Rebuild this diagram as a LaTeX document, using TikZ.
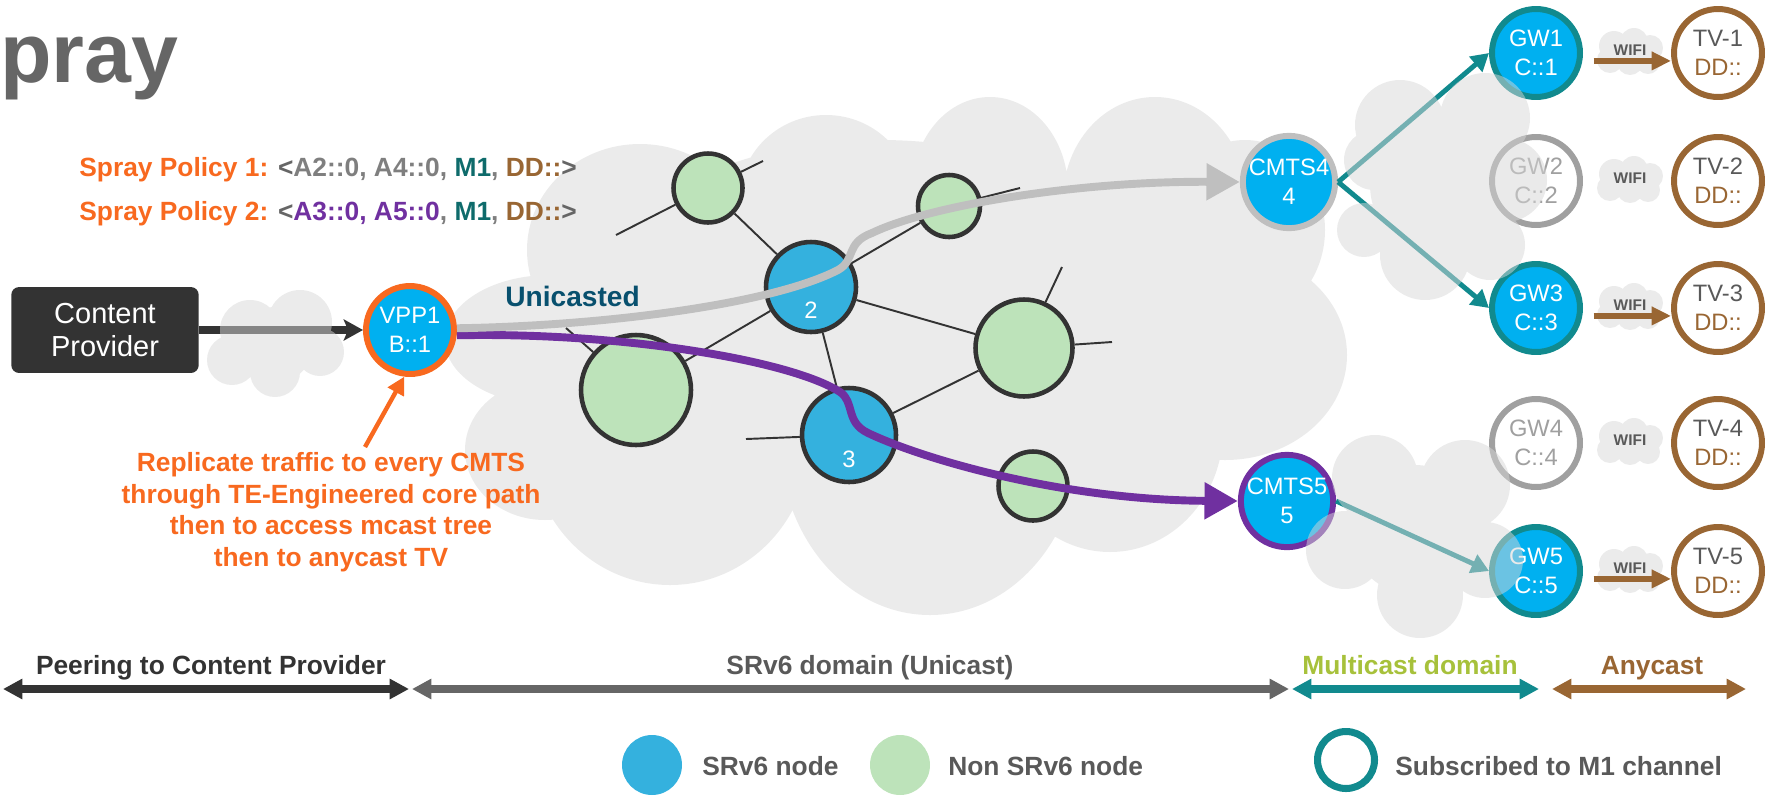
\documentclass[tikz,border=0pt]{standalone}
\usepackage{fontspec}
\setmainfont{Liberation Sans}
\usetikzlibrary{arrows.meta,backgrounds}

\definecolor{sprayorange}{HTML}{F8691F}
\definecolor{policygray}{HTML}{7F7F7F}
\definecolor{bracketgray}{HTML}{666666}
\definecolor{mtealtext}{HTML}{0E6B6B}
\definecolor{tvbrown}{HTML}{996633}
\definecolor{unipurple}{HTML}{7030A0}
\definecolor{unigray}{HTML}{BFBFBF}
\definecolor{txtgray}{HTML}{595959}
\definecolor{unicastblue}{HTML}{08506E}
\definecolor{mcgreen}{HTML}{A7C13B}
\definecolor{cloudgray}{HTML}{EBEBEB}
\definecolor{cloudmid}{HTML}{D7D7D7}
\definecolor{srblue}{HTML}{00B0F0}
\definecolor{netblue}{HTML}{34B1DE}
\definecolor{netgreen}{HTML}{BDE3BA}
\definecolor{netline}{HTML}{333333}
\definecolor{peerdark}{HTML}{333333}
\definecolor{srvbar}{HTML}{666666}
\definecolor{mteal}{HTML}{118A8E}
\definecolor{offgray}{HTML}{A0A0A0}
\definecolor{titlegray}{HTML}{666666}

\newcommand\nodefont{\fontsize{13.5}{16.5}\selectfont}
\newcommand\boldlabel{\bfseries\fontsize{15}{18}\selectfont}

\tikzset{
  bignode/.style={circle, minimum size=1.76cm, inner sep=0pt, line width=3.4pt, align=center, font=\nodefont},
  srv6/.style={bignode, fill=srblue, text=white},
  gwon/.style={srv6, draw=mteal},
  gwoff/.style={bignode, fill=white, draw=offgray, text=offgray},
  tvnode/.style={bignode, fill=white, draw=tvbrown, text=txtgray},
  netnode/.style={circle, inner sep=0pt, line width=2.6pt, draw=netline, minimum size=#1},
  netsr/.style={netnode=#1, fill=netblue},
  netgr/.style={netnode=#1, fill=netgreen},
  numlabel/.style={text=white, font=\nodefont, inner sep=0pt, yshift=#1},
  link/.style={netline, line width=1.1pt},
  unipath/.style={line width=4.5pt, -{Triangle[length=19pt,width=20pt]}},
  mcast/.style={mteal, line width=2.8pt, -{Triangle[length=10pt,width=11pt]}},
  wifiarrow/.style={tvbrown, line width=3.4pt, -{Triangle[length=11pt,width=10pt]}},
  domainbar/.style={line width=4pt, {Triangle[length=11pt,width=11pt]}-{Triangle[length=11pt,width=11pt]}},
  barlabel/.style={anchor=base, inner sep=0pt, font=\boldlabel},
  legtext/.style={anchor=base west, inner sep=0pt, font=\boldlabel, text=txtgray},
  cloudback/.style={fill=cloudgray},
  cloudtop/.style={fill=cloudmid, fill opacity=0.5},
}

\begin{document}
\begin{tikzpicture}[x=0.02cm, y=-0.02cm]
    \useasboundingbox (0,0) rectangle (1768,795);

    % title and spray policies
    \node[anchor=base west, inner sep=0pt, text=titlegray,
      font=\bfseries\fontsize{48}{48}\selectfont] (title) at (0,82) {pray};
    \node[anchor=base west, inner sep=0pt, font=\boldlabel] (pol1) at (79,176)
      {\textcolor{sprayorange}{Spray Policy 1:} \textcolor{bracketgray}{<}\textcolor{policygray}{A2::0, A4::0,}
       \textcolor{mtealtext}{M1}\textcolor{policygray}{,} \textcolor{tvbrown}{DD::}\textcolor{bracketgray}{>}};
    \node[anchor=base west, inner sep=0pt, font=\boldlabel] (pol2) at (79,220)
      {\textcolor{sprayorange}{Spray Policy 2:} \textcolor{bracketgray}{<}\textcolor{unipurple}{A3::0, A5::0}\textcolor{policygray}{,}
       \textcolor{mtealtext}{M1}\textcolor{policygray}{,} \textcolor{tvbrown}{DD::}\textcolor{bracketgray}{>}};

    % content provider and head end
    \node[rectangle, rounded corners=4.5pt, fill=peerdark, minimum width=3.75cm, minimum height=1.72cm,
      text=white, align=center, font=\fontsize{16.5}{19.3}\selectfont] (cp) at (105,330) {Content\\Provider};
    \node[srv6, draw=sprayorange] (vpp) at (410,330) {VPP1\\B::1};
    \node[anchor=north, inner sep=0pt, align=center, text=sprayorange, font=\boldlabel] (rep) at (331,452)
      {Replicate traffic to every CMTS\\through TE-Engineered core path\\then to access mcast tree\\then to anycast TV};
    \coordinate (repTip) at (365,447);

    % core network
    \node[netgr=1.38cm] (gTL) at (708,188) {};
    \node[netgr=1.24cm] (gTR) at (949,206) {};
    \node[netsr=1.8cm, label={[numlabel=-13pt]center:2}] (n2) at (811,287) {};
    \node[netgr=2.2cm] (gBig) at (636,390) {};
    \node[netsr=1.88cm, label={[numlabel=-14pt]center:3}] (n3) at (849,435) {};
    \node[netgr=1.94cm] (gR) at (1024,348) {};
    \node[netgr=1.38cm] (gBR) at (1033,486) {};
    \coordinate (sTLa) at (616,235);
    \coordinate (sTLb) at (763,161);
    \coordinate (sTR) at (1020,188);
    \coordinate (sBig) at (566,328);
    \coordinate (s3) at (746,439);
    \coordinate (sRa) at (1062,267);
    \coordinate (sRb) at (1112,342);

    \begin{scope}[on background layer]
      % SRv6 cloud
      \fill[cloudback] (640,250) ellipse[x radius=113, y radius=106]
        (826,200) ellipse[x radius=87, y radius=85]
        (990,190) ellipse[x radius=78, y radius=93]
        (1155,200) ellipse[x radius=92, y radius=103]
        (1245,230) ellipse[x radius=80, y radius=90]
        (1225,355) ellipse[x radius=122, y radius=105]
        (1110,430) ellipse[x radius=113, y radius=122]
        (930,440) ellipse[x radius=150, y radius=175]
        (670,440) ellipse[x radius=140, y radius=145]
        (545,450) ellipse[x radius=80, y radius=70]
        (550,340) ellipse[x radius=105, y radius=65]
        (880,320) ellipse[x radius=300, y radius=180];
      % links
      \draw[link] (gTL) -- (n2) (n2) -- (gTR) (n2) -- (gR) (n2) -- (n3) (n2) -- (gBig) (n3) -- (gR);
      \draw[link] (gTL) -- (sTLa) (gTL) -- (sTLb) (gTR) -- (sTR) (gBig) -- (sBig)
        (n3) -- (s3) (gR) -- (sRa) (gR) -- (sRb);
    \end{scope}

    \node[anchor=base west, inner sep=0pt, text=unicastblue, font=\bfseries\fontsize{16}{16}\selectfont] (uni) at (505,306) {Unicasted};

    % CMTS
    \node[srv6, draw=unigray] (cmts4) at (1289,182) {CMTS4\\4};
    \node[srv6, draw=unipurple] (cmts5) at (1287,501) {CMTS5\\5};

    % unicast paths
    \draw[unipath, unipurple] ([yshift=-3pt]vpp.east) .. controls (620,332) and (790,360) .. (840,392)
      .. controls (855,402) and (845,422) .. (868,433) .. controls (920,458) and (1060,500) .. (cmts5.west);
    \draw[unipath, unigray] ([yshift=1pt]vpp.east) .. controls (600,326) and (770,305) .. (838,270)
      .. controls (856,260) and (845,243) .. (872,233) .. controls (930,205) and (1080,181) .. (cmts4.west);

    % gateways and TVs
    \foreach \i/\y/\st in {1/53/gwon, 2/181/gwoff, 3/308/gwon, 4/443/gwoff, 5/571/gwon} {
      \node[\st] (gw\i) at (1536,\y) {GW\i\\C::\i};
      \node[tvnode] (tv\i) at (1718,\y) {TV-\i\\\textcolor{tvbrown}{DD::}};
    }

    % multicast tree
    \draw[mcast] (cmts4.east) -- (gw1.west);
    \draw[mcast] (cmts4.east) -- (gw3.west);
    \draw[mcast] (cmts5.east) -- (gw5.west);

    \draw[peerdark, line width=4pt, -{Stealth[length=11pt,width=12pt,inset=2.5pt]}] (cp.east) -- (vpp.west);
    \draw[sprayorange, line width=2.5pt, -{Triangle[length=10pt,width=10pt]}] (repTip) -- (vpp.263);

    % access clouds
    \fill[cloudtop] (250,330) circle[radius=30] (300,322) circle[radius=32] (320,352) circle[radius=24]
      (275,372) circle[radius=25] (232,360) circle[radius=25] (275,345) circle[radius=38];
    \fill[cloudtop] (1400,125) circle[radius=45] (1485,118) circle[radius=45] (1505,180) circle[radius=42]
      (1425,255) circle[radius=45] (1364,230) circle[radius=27] (1374,160) circle[radius=30]
      (1490,245) circle[radius=35] (1440,185) circle[radius=70];
    \fill[cloudtop] (1375,478) circle[radius=43] (1465,485) circle[radius=45] (1485,560) circle[radius=38]
      (1420,595) circle[radius=43] (1345,550) circle[radius=39] (1415,530) circle[radius=65];

    % wifi
    \foreach \y in {53,181,308,443,571}
      \fill[cloudback] (1614,\y-7) circle[radius=15] (1634,\y-11) circle[radius=14] (1650,\y-5) circle[radius=13]
        (1648,\y+9) circle[radius=12] (1630,\y+9) circle[radius=13] (1610,\y+7) circle[radius=13]
        (1630,\y-1) circle[radius=18];
    \foreach \i in {1,3,5}
      \draw[wifiarrow] ([xshift=6pt,yshift=-4.5pt]gw\i.east) -- ([yshift=-4.5pt]tv\i.west);
    \foreach \i/\y in {1/53,2/181,3/308,4/443,5/571}
      \node[inner sep=0pt, text=txtgray, font=\bfseries\fontsize{8.8}{9}\selectfont] (wifi\i) at (1630,\y-3) {WIFI};

    % domains
    \coordinate (peerL) at (3,689);
    \coordinate (peerR) at (409,689);
    \coordinate (srL) at (412,689);
    \coordinate (srR) at (1289,689);
    \coordinate (mcL) at (1292,689);
    \coordinate (mcR) at (1539,689);
    \coordinate (anyL) at (1552,689);
    \coordinate (anyR) at (1746,689);
    \draw[domainbar, peerdark] (peerL) -- (peerR);
    \draw[domainbar, srvbar] (srL) -- (srR);
    \draw[domainbar, mteal] (mcL) -- (mcR);
    \draw[domainbar, tvbrown] (anyL) -- (anyR);
    \node[barlabel, text=peerdark] (peerLab) at (211,674) {Peering to Content Provider};
    \node[barlabel, text=txtgray] (srLab) at (870,674) {SRv6 domain (Unicast)};
    \node[barlabel, text=mcgreen] (mcLab) at (1410,674) {Multicast domain};
    \node[barlabel, text=tvbrown] (anyLab) at (1652,674) {Anycast};

    % legend
    \node[circle, fill=netblue, inner sep=0pt, minimum size=1.2cm] (legSR) at (652,765) {};
    \node[legtext] (legSRt) at (702,775) {SRv6 node};
    \node[circle, fill=netgreen, inner sep=0pt, minimum size=1.2cm] (legNon) at (900,765) {};
    \node[legtext] (legNont) at (948,775) {Non SRv6 node};
    \node[circle, draw=mteal, line width=4pt, inner sep=0pt, minimum size=1.14cm] (legSub) at (1346,760) {};
    \node[legtext] (legSubt) at (1395,775) {Subscribed to M1 channel};
\end{tikzpicture}
\end{document}
